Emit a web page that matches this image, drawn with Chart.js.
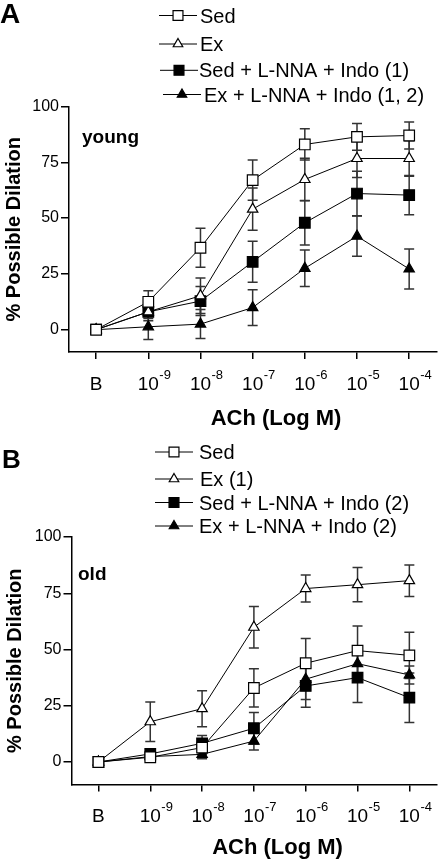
<!DOCTYPE html>
<html>
<head>
<meta charset="utf-8">
<script src="https://cdn.jsdelivr.net/npm/chart.js@4.4.0/dist/chart.umd.min.js"></script>
<style>
  body { margin: 0; background: #fff; }
  .panel { width: 445px; height: 430px; }
  canvas { display: block; }
</style>
</head>
<body>
<div class="panel"><canvas id="chartA" width="445" height="430"></canvas></div>
<div class="panel"><canvas id="chartB" width="445" height="430"></canvas></div>
<script>
// x positions and tick labels (B = baseline, then ACh log molar doses)
const xTickValues = [0, 1, 2, 3, 4, 5, 6];
const xTickLabels = ['B', '10^-9', '10^-8', '10^-7', '10^-6', '10^-5', '10^-4'];
const yTickValues = [0, 25, 50, 75, 100];

// panel A - young
const youngLabels = ['Sed', 'Ex', 'Sed + L-NNA + Indo (1)', 'Ex + L-NNA + Indo (1, 2)'];
const youngSed = [0, 12.5, 36.7, 67, 83, 86.4, 87];
const youngSedErr = [0, 5, 8.7, 9, 7, 6, 6];
const youngEx = [0, 8, 15.2, 54, 67.3, 76.7, 76.7];
const youngExErr = [0, 3, 8, 9.5, 9.5, 8.5, 8];
const youngSedNI = [0, 8, 12.8, 30.4, 47.9, 61, 60.3];
const youngSedNIErr = [0, 4, 6.5, 9.2, 10, 10, 8.8];
const youngExNI = [0, 1.3, 2.5, 9.9, 27.5, 41.9, 27.2];
const youngExNIErr = [0, 5.7, 6.5, 8, 8.2, 9, 9];

// panel B - old
const oldLabels = ['Sed', 'Ex (1)', 'Sed + L-NNA + Indo (2)', 'Ex + L-NNA + Indo (2)'];
const oldSed = [0, 2.1, 6.4, 32.9, 43.9, 49.5, 47.4];
const oldSedErr = [0, 1.5, 3, 8.5, 11, 11, 10.3];
const oldEx = [0, 17.9, 23.7, 59.9, 77.1, 78.8, 80.6];
const oldExErr = [0, 8.8, 8, 9.2, 6, 7.6, 7];
const oldSedNI = [0, 3.6, 8.3, 15, 33.8, 37.5, 28.6];
const oldSedNIErr = [0, 1.5, 3.5, 7, 9.5, 11, 11];
const oldExNI = [0, 2.4, 3.4, 9.3, 36.8, 43.7, 38.7];
const oldExNIErr = [0, 1.5, 2, 4, 9, 5, 4];

const FONT = '"Liberation Sans", Arial, Helvetica, sans-serif';

function series(label, values, errors, pointStyle, filled) {
    return {
        label: label,
        data: values.map((v, i) => ({ x: xTickValues[i], y: v })),
        errors: errors,
        borderColor: '#000',
        borderWidth: 1,
        pointStyle: pointStyle,
        pointRadius: pointStyle === 'rect' ? 7.5 : 6,
        pointBorderWidth: 1.2,
        pointBackgroundColor: filled ? '#000' : '#fff',
        pointBorderColor: '#000',
        tension: 0,
        clip: false
    };
}

// error bars behind the markers, legend, titles and superscript tick labels
const panelDecor = {
    id: 'panelDecor',
    beforeDatasetsDraw(chart) {
        const ctx = chart.ctx;
        const xs = chart.scales.x, ys = chart.scales.y;
        ctx.save();
        ctx.strokeStyle = '#333';
        ctx.lineWidth = 1.5;
        chart.data.datasets.forEach(ds => {
            ds.data.forEach((p, i) => {
                const e = ds.errors[i];
                if (!e) return;
                const x = xs.getPixelForValue(p.x);
                const yt = ys.getPixelForValue(p.y + e);
                const yb = ys.getPixelForValue(p.y - e);
                ctx.beginPath();
                ctx.moveTo(x, yt); ctx.lineTo(x, yb);
                ctx.moveTo(x - 5, yt); ctx.lineTo(x + 5, yt);
                ctx.moveTo(x - 5, yb); ctx.lineTo(x + 5, yb);
                ctx.stroke();
            });
        });
        ctx.restore();
    },
    afterDraw(chart, args, opts) {
        const ctx = chart.ctx;
        const xs = chart.scales.x;
        const area = chart.chartArea;
        ctx.save();
        ctx.fillStyle = '#000';
        ctx.textBaseline = 'alphabetic';

        // panel letter
        ctx.font = 'bold ' + opts.letterSize + 'px ' + FONT;
        ctx.textAlign = 'left';
        ctx.fillText(opts.letter, opts.letterX, opts.letterY);

        // group label inside plot
        ctx.font = 'bold 19px ' + FONT;
        ctx.fillText(opts.group, opts.groupX, opts.groupY);

        // legend
        chart.data.datasets.forEach((ds, i) => {
            const y = opts.legendRows[i];
            const x0 = opts.legendLineX[i];
            ctx.strokeStyle = '#000';
            ctx.lineWidth = 1;
            ctx.beginPath();
            ctx.moveTo(x0, y); ctx.lineTo(x0 + 38, y);
            ctx.stroke();
            ctx.fillStyle = ds.pointBackgroundColor;
            ctx.strokeStyle = '#000';
            ctx.lineWidth = 1.2;
            Chart.helpers.drawPoint(ctx, {
                pointStyle: ds.pointStyle,
                radius: ds.pointStyle === 'rect' ? 7 : 5.5,
                rotation: 0,
                borderWidth: 1.2
            }, x0 + 19, y);
            ctx.fillStyle = '#000';
            ctx.font = '20px ' + FONT;
            ctx.textAlign = 'left';
            ctx.fillText(ds.label, opts.legendTextX[i], y + 7);
        });

        // x tick labels with superscript exponents
        xTickLabels.forEach((lab, i) => {
            const x = xs.getPixelForValue(xTickValues[i]);
            const parts = lab.split('^');
            ctx.font = '19px ' + FONT;
            ctx.textAlign = 'center';
            ctx.fillText(parts[0], x, opts.xTickY);
            if (parts[1]) {
                const w = ctx.measureText(parts[0]).width;
                ctx.font = '13px ' + FONT;
                ctx.textAlign = 'left';
                ctx.fillText(parts[1], x + w / 2 + 0.5, opts.xTickY - 11);
            }
        });

        // axis titles
        ctx.font = 'bold 22px ' + FONT;
        ctx.textAlign = 'center';
        ctx.fillText('ACh (Log M)', opts.xTitleX, opts.xTitleY);

        ctx.translate(opts.yTitleX, (area.top + area.bottom) / 2);
        ctx.rotate(-Math.PI / 2);
        ctx.font = 'bold 20px ' + FONT;
        ctx.fillText('% Possible Dilation', 0, 0);
        ctx.restore();
    }
};

function buildChart(canvasId, labels, sets, frame, decor) {
    const datasets = [
        series(labels[0], sets[0][0], sets[0][1], 'rect', false),
        series(labels[1], sets[1][0], sets[1][1], 'triangle', false),
        series(labels[2], sets[2][0], sets[2][1], 'rect', true),
        series(labels[3], sets[3][0], sets[3][1], 'triangle', true)
    ];
    return new Chart(document.getElementById(canvasId), {
        type: 'line',
        data: { datasets: datasets },
        options: {
            responsive: false,
            animation: false,
            events: [],
            layout: { padding: { left: 0, top: frame.top, right: frame.right, bottom: 0 } },
            plugins: {
                legend: { display: false },
                tooltip: { enabled: false },
                panelDecor: decor
            },
            scales: {
                x: {
                    type: 'linear',
                    min: -0.52,
                    max: 6.52,
                    afterBuildTicks: s => { s.ticks = xTickValues.map(v => ({ value: v })); },
                    afterFit: s => { s.height = frame.xHeight; },
                    ticks: { display: false },
                    grid: { drawOnChartArea: false, drawTicks: true, tickLength: 7, color: '#000', lineWidth: 1.5 },
                    border: { display: true, color: '#000', width: 1.5 }
                },
                y: {
                    min: -10,
                    max: 100,
                    afterBuildTicks: s => { s.ticks = yTickValues.map(v => ({ value: v })); },
                    afterFit: s => { s.width = frame.left; },
                    ticks: { color: '#000', padding: 2, font: { size: 16, family: FONT } },
                    grid: { drawOnChartArea: false, drawTicks: true, tickLength: 8, color: '#000', lineWidth: 1.5 },
                    border: { display: true, color: '#000', width: 1.5 }
                }
            }
        },
        plugins: [panelDecor]
    });
}

buildChart('chartA', youngLabels,
    [[youngSed, youngSedErr], [youngEx, youngExErr], [youngSedNI, youngSedNIErr], [youngExNI, youngExNIErr]],
    { top: 106.5, right: 5, left: 69, xHeight: 78 },
    {
        letter: 'A', letterSize: 28, letterX: 0, letterY: 23,
        group: 'young', groupX: 82, groupY: 142.5,
        legendRows: [15.5, 44, 70.3, 94.5],
        legendLineX: [159, 159, 160, 163],
        legendTextX: [200, 200, 199, 204],
        xTickY: 390, xTitleX: 276, xTitleY: 425, yTitleX: 20
    });

buildChart('chartB', oldLabels,
    [[oldSed, oldSedErr], [oldEx, oldExErr], [oldSedNI, oldSedNIErr], [oldExNI, oldExNIErr]],
    { top: 107, right: 0, left: 71.5, xHeight: 75.5 },
    {
        letter: 'B', letterSize: 26, letterX: 2, letterY: 38,
        group: 'old', groupX: 78, groupY: 150,
        legendRows: [22, 49, 72.5, 96],
        legendLineX: [155, 155, 155, 155],
        legendTextX: [199, 200, 199, 199],
        xTickY: 392, xTitleX: 277.5, xTitleY: 424, yTitleX: 20.5
    });
</script>
</body>
</html>
